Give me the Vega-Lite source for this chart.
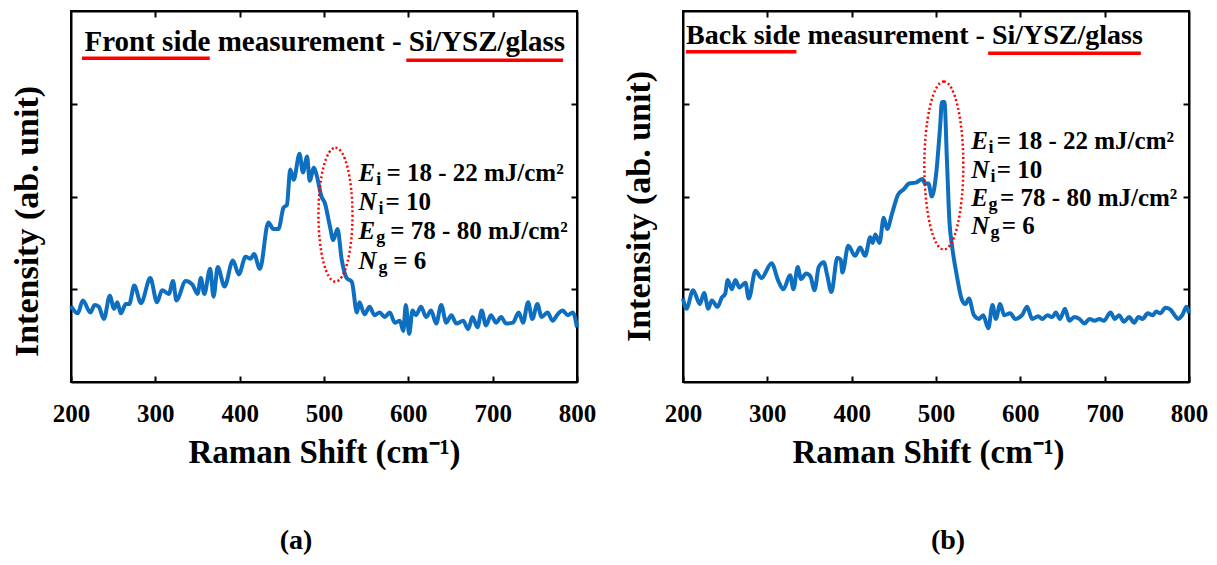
{
  "$schema": "https://vega.github.io/schema/vega-lite/v6.json",
  "background": "white",
  "padding": {"left": 9, "top": 9, "right": 5, "bottom": 5},
  "bounds": "flush",
  "spacing": 106,
  "config": {
    "view": {"stroke": "black", "strokeWidth": 2},
    "font": "Liberation Serif",
    "axis": {
      "grid": false,
      "domainColor": "black",
      "domainWidth": 2,
      "tickColor": "black",
      "tickWidth": 2,
      "tickSize": -6,
      "labelFont": "Liberation Serif",
      "labelFontWeight": "bold",
      "labelFontSize": 25,
      "labelColor": "black",
      "labelFlush": false,
      "titleFont": "Liberation Serif",
      "titleFontWeight": "bold",
      "titleColor": "black"
    }
  },
  "datasets": {
    "front": [
      {"shift": 200, "intensity": 0.82}, {"shift": 202, "intensity": 0.79}, {"shift": 208, "intensity": 0.74}, {"shift": 214, "intensity": 0.88},
      {"shift": 223, "intensity": 0.75}, {"shift": 228, "intensity": 0.83}, {"shift": 233, "intensity": 0.81}, {"shift": 239, "intensity": 0.68},
      {"shift": 246, "intensity": 0.93}, {"shift": 251, "intensity": 0.79}, {"shift": 255, "intensity": 0.86}, {"shift": 259, "intensity": 0.74},
      {"shift": 265, "intensity": 0.84}, {"shift": 269, "intensity": 0.84}, {"shift": 275, "intensity": 1.04}, {"shift": 283, "intensity": 0.85},
      {"shift": 294, "intensity": 1.12}, {"shift": 302, "intensity": 0.86}, {"shift": 308, "intensity": 0.99}, {"shift": 316, "intensity": 0.95},
      {"shift": 321, "intensity": 1.09}, {"shift": 325, "intensity": 0.88}, {"shift": 336, "intensity": 1.09}, {"shift": 344, "intensity": 1.05},
      {"shift": 350, "intensity": 0.95}, {"shift": 354, "intensity": 1.12}, {"shift": 358, "intensity": 0.95}, {"shift": 365, "intensity": 1.22},
      {"shift": 369, "intensity": 0.92}, {"shift": 374, "intensity": 1.24}, {"shift": 382, "intensity": 1.03}, {"shift": 392, "intensity": 1.31},
      {"shift": 399, "intensity": 1.16}, {"shift": 407, "intensity": 1.35}, {"shift": 413, "intensity": 1.33}, {"shift": 417, "intensity": 1.38},
      {"shift": 424, "intensity": 1.22}, {"shift": 434, "intensity": 1.72}, {"shift": 440, "intensity": 1.65}, {"shift": 446, "intensity": 1.65},
      {"shift": 452, "intensity": 1.88}, {"shift": 456, "intensity": 1.91}, {"shift": 460, "intensity": 2.29}, {"shift": 464, "intensity": 2.18},
      {"shift": 471, "intensity": 2.46}, {"shift": 475, "intensity": 2.26}, {"shift": 480, "intensity": 2.43}, {"shift": 483, "intensity": 2.17},
      {"shift": 488, "intensity": 2.31}, {"shift": 491, "intensity": 2.24}, {"shift": 497, "intensity": 2.0}, {"shift": 501, "intensity": 1.93},
      {"shift": 507, "intensity": 1.68}, {"shift": 511, "intensity": 1.53}, {"shift": 516, "intensity": 1.65}, {"shift": 521, "intensity": 1.32},
      {"shift": 527, "intensity": 1.12}, {"shift": 533, "intensity": 1.08}, {"shift": 539, "intensity": 0.75}, {"shift": 542, "intensity": 0.86},
      {"shift": 548, "intensity": 0.73}, {"shift": 554, "intensity": 0.81}, {"shift": 560, "intensity": 0.72}, {"shift": 566, "intensity": 0.75},
      {"shift": 572, "intensity": 0.7}, {"shift": 578, "intensity": 0.75}, {"shift": 584, "intensity": 0.64}, {"shift": 590, "intensity": 0.66},
      {"shift": 594, "intensity": 0.55}, {"shift": 597, "intensity": 0.83}, {"shift": 601, "intensity": 0.52}, {"shift": 605, "intensity": 0.77},
      {"shift": 609, "intensity": 0.72}, {"shift": 615, "intensity": 0.81}, {"shift": 621, "intensity": 0.7}, {"shift": 627, "intensity": 0.77},
      {"shift": 633, "intensity": 0.63}, {"shift": 639, "intensity": 0.83}, {"shift": 645, "intensity": 0.64}, {"shift": 651, "intensity": 0.72},
      {"shift": 657, "intensity": 0.63}, {"shift": 665, "intensity": 0.66}, {"shift": 671, "intensity": 0.57}, {"shift": 676, "intensity": 0.7},
      {"shift": 682, "intensity": 0.59}, {"shift": 687, "intensity": 0.77}, {"shift": 692, "intensity": 0.61}, {"shift": 698, "intensity": 0.72},
      {"shift": 704, "intensity": 0.64}, {"shift": 710, "intensity": 0.7}, {"shift": 716, "intensity": 0.63}, {"shift": 724, "intensity": 0.64},
      {"shift": 731, "intensity": 0.75}, {"shift": 736, "intensity": 0.64}, {"shift": 742, "intensity": 0.86}, {"shift": 747, "intensity": 0.68},
      {"shift": 753, "intensity": 0.84}, {"shift": 758, "intensity": 0.7}, {"shift": 765, "intensity": 0.75}, {"shift": 771, "intensity": 0.66},
      {"shift": 777, "intensity": 0.73}, {"shift": 783, "intensity": 0.77}, {"shift": 789, "intensity": 0.72}, {"shift": 795, "intensity": 0.75},
      {"shift": 800, "intensity": 0.59}
    ],
    "back": [
      {"shift": 200, "intensity": 0.9}, {"shift": 204, "intensity": 0.79}, {"shift": 212, "intensity": 0.99}, {"shift": 220, "intensity": 0.84},
      {"shift": 225, "intensity": 0.96}, {"shift": 230, "intensity": 0.79}, {"shift": 234, "intensity": 0.88}, {"shift": 241, "intensity": 0.81},
      {"shift": 246, "intensity": 0.91}, {"shift": 250, "intensity": 0.95}, {"shift": 253, "intensity": 1.1}, {"shift": 258, "intensity": 1.0},
      {"shift": 262, "intensity": 1.1}, {"shift": 267, "intensity": 1.02}, {"shift": 274, "intensity": 1.07}, {"shift": 278, "intensity": 0.9},
      {"shift": 286, "intensity": 1.2}, {"shift": 293, "intensity": 1.12}, {"shift": 305, "intensity": 1.28}, {"shift": 313, "intensity": 1.09},
      {"shift": 319, "intensity": 1.0}, {"shift": 327, "intensity": 1.15}, {"shift": 331, "intensity": 1.0}, {"shift": 336, "intensity": 1.24},
      {"shift": 340, "intensity": 1.11}, {"shift": 346, "intensity": 1.17}, {"shift": 351, "intensity": 1.14}, {"shift": 356, "intensity": 0.99},
      {"shift": 361, "intensity": 1.24}, {"shift": 367, "intensity": 1.29}, {"shift": 371, "intensity": 1.15}, {"shift": 376, "intensity": 0.97},
      {"shift": 383, "intensity": 1.34}, {"shift": 387, "intensity": 1.32}, {"shift": 389, "intensity": 1.18}, {"shift": 396, "intensity": 1.47},
      {"shift": 404, "intensity": 1.36}, {"shift": 410, "intensity": 1.45}, {"shift": 416, "intensity": 1.36}, {"shift": 422, "intensity": 1.56},
      {"shift": 425, "intensity": 1.5}, {"shift": 428, "intensity": 1.59}, {"shift": 433, "intensity": 1.5}, {"shift": 438, "intensity": 1.77},
      {"shift": 442, "intensity": 1.65}, {"shift": 448, "intensity": 1.82}, {"shift": 455, "intensity": 2.02}, {"shift": 462, "intensity": 2.08},
      {"shift": 468, "intensity": 2.14}, {"shift": 476, "intensity": 2.15}, {"shift": 484, "intensity": 2.19}, {"shift": 487, "intensity": 2.14},
      {"shift": 491, "intensity": 2.14}, {"shift": 495, "intensity": 2.0}, {"shift": 500, "intensity": 2.23}, {"shift": 505, "intensity": 2.77},
      {"shift": 507, "intensity": 3.02}, {"shift": 510, "intensity": 3.02}, {"shift": 513, "intensity": 2.38}, {"shift": 516, "intensity": 1.72},
      {"shift": 519, "intensity": 1.47}, {"shift": 525, "intensity": 1.13}, {"shift": 531, "intensity": 0.88}, {"shift": 535, "intensity": 0.84},
      {"shift": 539, "intensity": 0.9}, {"shift": 545, "intensity": 0.72}, {"shift": 551, "intensity": 0.68}, {"shift": 556, "intensity": 0.72},
      {"shift": 562, "intensity": 0.58}, {"shift": 567, "intensity": 0.83}, {"shift": 571, "intensity": 0.68}, {"shift": 576, "intensity": 0.84},
      {"shift": 581, "intensity": 0.72}, {"shift": 588, "intensity": 0.74}, {"shift": 594, "intensity": 0.68}, {"shift": 602, "intensity": 0.72},
      {"shift": 608, "intensity": 0.81}, {"shift": 614, "intensity": 0.68}, {"shift": 621, "intensity": 0.71}, {"shift": 626, "intensity": 0.68},
      {"shift": 632, "intensity": 0.72}, {"shift": 638, "intensity": 0.7}, {"shift": 642, "intensity": 0.75}, {"shift": 647, "intensity": 0.68},
      {"shift": 653, "intensity": 0.79}, {"shift": 658, "intensity": 0.66}, {"shift": 664, "intensity": 0.7}, {"shift": 670, "intensity": 0.68},
      {"shift": 676, "intensity": 0.63}, {"shift": 682, "intensity": 0.68}, {"shift": 688, "intensity": 0.66}, {"shift": 694, "intensity": 0.68},
      {"shift": 699, "intensity": 0.66}, {"shift": 707, "intensity": 0.75}, {"shift": 712, "intensity": 0.68}, {"shift": 717, "intensity": 0.72},
      {"shift": 723, "intensity": 0.65}, {"shift": 729, "intensity": 0.7}, {"shift": 735, "intensity": 0.64}, {"shift": 740, "intensity": 0.7},
      {"shift": 745, "intensity": 0.68}, {"shift": 751, "intensity": 0.74}, {"shift": 757, "intensity": 0.72}, {"shift": 761, "intensity": 0.76},
      {"shift": 766, "intensity": 0.74}, {"shift": 772, "intensity": 0.8}, {"shift": 778, "intensity": 0.78}, {"shift": 783, "intensity": 0.72},
      {"shift": 787, "intensity": 0.68}, {"shift": 792, "intensity": 0.72}, {"shift": 797, "intensity": 0.81}, {"shift": 800, "intensity": 0.74}
    ]
  },
  "hconcat": [
    {
      "width": 506,
      "height": 371,
      "title": {"text": "(a)", "orient": "bottom", "font": "Liberation Serif", "fontSize": 28, "fontWeight": "bold", "color": "black", "offset": 58, "dx": -28},
      "resolve": {"axis": {"x": "independent", "y": "independent"}},
      "layer": [
        {
          "data": {"name": "front"},
          "mark": {"type": "line", "color": "#0E6EC0", "strokeWidth": 4, "strokeJoin": "round", "interpolate": "monotone"},
          "encoding": {
            "x": {"field": "shift", "type": "quantitative", "scale": {"domain": [200, 800]},
              "axis": {"orient": "bottom", "values": [200, 300, 400, 500, 600, 700, 800], "format": "d", "labelPadding": 25, "title": "Raman Shift (cm⁻¹)", "titleFontSize": 33, "titlePadding": 10}},
            "y": {"field": "intensity", "type": "quantitative", "scale": {"domain": [0, 4]},
              "axis": {"orient": "left", "values": [1, 2, 3], "labels": false, "title": "Intensity (ab. unit)", "titleFontSize": 34, "titlePadding": 26, "titleY": 210}}
          }
        },
        {
          "data": {"values": [{"from": 213, "to": 364.5, "level": 3.49}, {"from": 597.6, "to": 783.4, "level": 3.47}]},
          "mark": {"type": "rule", "color": "#FF0000", "strokeWidth": 3.5},
          "encoding": {
            "x": {"field": "from", "type": "quantitative", "axis": {"orient": "top", "values": [300, 400, 500, 600, 700], "labels": false, "title": null}},
            "x2": {"field": "to"},
            "y": {"field": "level", "type": "quantitative", "axis": {"orient": "right", "values": [1, 2, 3], "labels": false, "title": null}}
          }
        },
        {
          "data": {"values": [{"cx": 513.6, "cy": 1.804}]},
          "mark": {"type": "point", "shape": "M0,-1C0.140,-1 0.254,-0.552 0.254,0C0.254,0.552 0.140,1 0,1C-0.140,1 -0.254,0.552 -0.254,0C-0.254,-0.552 -0.140,-1 0,-1Z", "size": 17956, "filled": false, "stroke": "#FF0000", "strokeWidth": 2.5, "strokeDash": [2, 2.5], "opacity": 1},
          "encoding": {
            "x": {"field": "cx", "type": "quantitative", "axis": null},
            "y": {"field": "cy", "type": "quantitative", "axis": null}
          }
        },
        {
          "data": {"values": [{"px": 216, "py": 3.57, "label": "Front side measurement - Si/YSZ/glass"}]},
          "mark": {"type": "text", "align": "left", "baseline": "alphabetic", "font": "Liberation Serif", "fontSize": 29, "fontWeight": "bold", "color": "black"},
          "encoding": {
            "x": {"field": "px", "type": "quantitative", "axis": null},
            "y": {"field": "py", "type": "quantitative", "axis": null},
            "text": {"field": "label"}
          }
        },
        {
          "data": {"values": [
            {"px": 540.8, "py": 2.167, "label": "E"}, {"px": 540.8, "py": 1.855, "label": "N"},
            {"px": 540.8, "py": 1.542, "label": "E"}, {"px": 540.8, "py": 1.218, "label": "N"}]},
          "mark": {"type": "text", "align": "left", "baseline": "alphabetic", "font": "Liberation Serif", "fontSize": 25, "fontWeight": "bold", "fontStyle": "italic", "color": "black"},
          "encoding": {
            "x": {"field": "px", "type": "quantitative", "axis": null},
            "y": {"field": "py", "type": "quantitative", "axis": null},
            "text": {"field": "label"}
          }
        },
        {
          "data": {"values": [
            {"px": 562, "py": 2.167, "label": "i"}, {"px": 564.5, "py": 1.855, "label": "i"},
            {"px": 562, "py": 1.542, "label": "g"}, {"px": 564.5, "py": 1.218, "label": "g"}]},
          "mark": {"type": "text", "align": "left", "baseline": "alphabetic", "dy": 4, "font": "Liberation Serif", "fontSize": 18, "fontWeight": "bold", "color": "black"},
          "encoding": {
            "x": {"field": "px", "type": "quantitative", "axis": null},
            "y": {"field": "py", "type": "quantitative", "axis": null},
            "text": {"field": "label"}
          }
        },
        {
          "data": {"values": [
            {"px": 574, "py": 2.167, "label": "= 18 - 22 mJ/cm²"}, {"px": 572.8, "py": 1.855, "label": "= 10"},
            {"px": 578.7, "py": 1.542, "label": "= 78 - 80 mJ/cm²"}, {"px": 582, "py": 1.218, "label": "= 6"}]},
          "mark": {"type": "text", "align": "left", "baseline": "alphabetic", "font": "Liberation Serif", "fontSize": 25, "fontWeight": "bold", "color": "black"},
          "encoding": {
            "x": {"field": "px", "type": "quantitative", "axis": null},
            "y": {"field": "py", "type": "quantitative", "axis": null},
            "text": {"field": "label"}
          }
        }
      ]
    },
    {
      "width": 506,
      "height": 371,
      "title": {"text": "(b)", "orient": "bottom", "font": "Liberation Serif", "fontSize": 28, "fontWeight": "bold", "color": "black", "offset": 58, "dx": 12},
      "resolve": {"axis": {"x": "independent", "y": "independent"}},
      "layer": [
        {
          "data": {"name": "back"},
          "mark": {"type": "line", "color": "#0E6EC0", "strokeWidth": 4, "strokeJoin": "round", "interpolate": "monotone"},
          "encoding": {
            "x": {"field": "shift", "type": "quantitative", "scale": {"domain": [200, 800]},
              "axis": {"orient": "bottom", "values": [200, 300, 400, 500, 600, 700, 800], "format": "d", "labelPadding": 25, "title": "Raman Shift (cm⁻¹)", "titleFontSize": 33, "titlePadding": 10, "titleX": 245}},
            "y": {"field": "intensity", "type": "quantitative", "scale": {"domain": [0, 4]},
              "axis": {"orient": "left", "values": [1, 2, 3], "labels": false, "title": "Intensity (ab. unit)", "titleFontSize": 34, "titlePadding": 26, "titleY": 195}}
          }
        },
        {
          "data": {"values": [{"from": 203.6, "to": 334.5, "level": 3.56}, {"from": 561.9, "to": 742.9, "level": 3.545}]},
          "mark": {"type": "rule", "color": "#FF0000", "strokeWidth": 3.5},
          "encoding": {
            "x": {"field": "from", "type": "quantitative", "axis": {"orient": "top", "values": [300, 400, 500, 600, 700], "labels": false, "title": null}},
            "x2": {"field": "to"},
            "y": {"field": "level", "type": "quantitative", "axis": {"orient": "right", "values": [1, 2, 3], "labels": false, "title": null}}
          }
        },
        {
          "data": {"values": [{"cx": 509.3, "cy": 2.334}]},
          "mark": {"type": "point", "shape": "M0,-1C0.128,-1 0.232,-0.552 0.232,0C0.232,0.552 0.128,1 0,1C-0.128,1 -0.232,0.552 -0.232,0C-0.232,-0.552 -0.128,-1 0,-1Z", "size": 28224, "filled": false, "stroke": "#FF0000", "strokeWidth": 2.5, "strokeDash": [2, 2.5], "opacity": 1},
          "encoding": {
            "x": {"field": "cx", "type": "quantitative", "axis": null},
            "y": {"field": "cy", "type": "quantitative", "axis": null}
          }
        },
        {
          "data": {"values": [{"px": 203.6, "py": 3.64, "label": "Back side measurement - Si/YSZ/glass"}]},
          "mark": {"type": "text", "align": "left", "baseline": "alphabetic", "font": "Liberation Serif", "fontSize": 28, "fontWeight": "bold", "color": "black"},
          "encoding": {
            "x": {"field": "px", "type": "quantitative", "axis": null},
            "y": {"field": "py", "type": "quantitative", "axis": null},
            "text": {"field": "label"}
          }
        },
        {
          "data": {"values": [
            {"px": 541.7, "py": 2.509, "label": "E"}, {"px": 541.7, "py": 2.203, "label": "N"},
            {"px": 541.7, "py": 1.898, "label": "E"}, {"px": 541.7, "py": 1.593, "label": "N"}]},
          "mark": {"type": "text", "align": "left", "baseline": "alphabetic", "font": "Liberation Serif", "fontSize": 25, "fontWeight": "bold", "fontStyle": "italic", "color": "black"},
          "encoding": {
            "x": {"field": "px", "type": "quantitative", "axis": null},
            "y": {"field": "py", "type": "quantitative", "axis": null},
            "text": {"field": "label"}
          }
        },
        {
          "data": {"values": [
            {"px": 562.3, "py": 2.509, "label": "i"}, {"px": 564.7, "py": 2.203, "label": "i"},
            {"px": 562.3, "py": 1.898, "label": "g"}, {"px": 564.7, "py": 1.593, "label": "g"}]},
          "mark": {"type": "text", "align": "left", "baseline": "alphabetic", "dy": 4, "font": "Liberation Serif", "fontSize": 18, "fontWeight": "bold", "color": "black"},
          "encoding": {
            "x": {"field": "px", "type": "quantitative", "axis": null},
            "y": {"field": "py", "type": "quantitative", "axis": null},
            "text": {"field": "label"}
          }
        },
        {
          "data": {"values": [
            {"px": 572, "py": 2.509, "label": "= 18 - 22 mJ/cm²"}, {"px": 572, "py": 2.203, "label": "= 10"},
            {"px": 576, "py": 1.898, "label": "= 78 - 80 mJ/cm²"}, {"px": 578, "py": 1.593, "label": "= 6"}]},
          "mark": {"type": "text", "align": "left", "baseline": "alphabetic", "font": "Liberation Serif", "fontSize": 25, "fontWeight": "bold", "color": "black"},
          "encoding": {
            "x": {"field": "px", "type": "quantitative", "axis": null},
            "y": {"field": "py", "type": "quantitative", "axis": null},
            "text": {"field": "label"}
          }
        }
      ]
    }
  ]
}
